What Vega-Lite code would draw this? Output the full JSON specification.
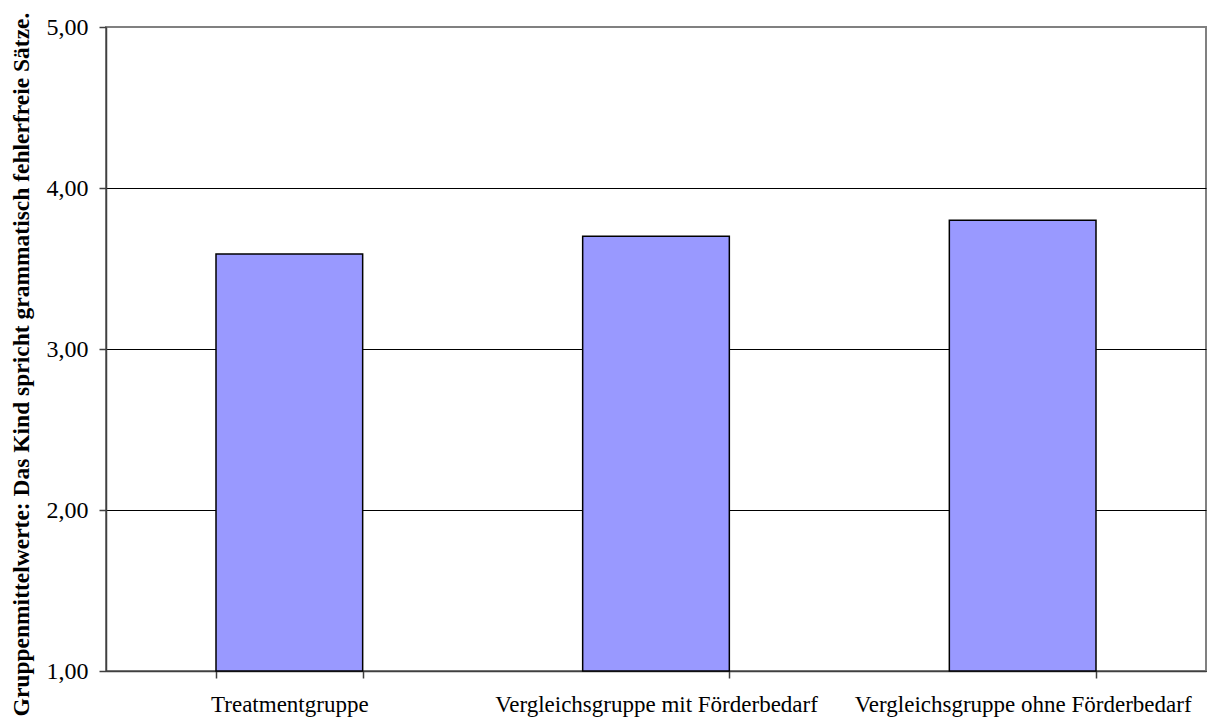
{
  "$schema": "https://vega.github.io/schema/vega-lite/v6.json",
  "width": 1100,
  "height": 644,
  "autosize": "none",
  "padding": {"left": 106, "top": 27, "right": 7, "bottom": 46},
  "background": "white",
  "config": {
    "font": "Liberation Serif",
    "view": {"stroke": "#808080", "strokeWidth": 2}
  },
  "data": {
    "values": [
      {"gruppe": "Treatmentgruppe", "wert": 3.59},
      {"gruppe": "Vergleichsgruppe mit Förderbedarf", "wert": 3.70},
      {"gruppe": "Vergleichsgruppe ohne Förderbedarf", "wert": 3.80}
    ]
  },
  "mark": {"type": "bar", "color": "#9999FF", "stroke": "#000000", "strokeWidth": 1.5},
  "encoding": {
    "x": {
      "field": "gruppe",
      "type": "nominal",
      "sort": null,
      "scale": {"paddingInner": 0.6, "paddingOuter": 0.3},
      "axis": {
        "title": null,
        "labelAngle": 0,
        "labelFont": "Liberation Serif",
        "labelFontSize": 23,
        "labelLimit": 0,
        "labelColor": "#000000",
        "labelPadding": 15,
        "tickBand": "extent",
        "ticks": true,
        "tickSize": 7,
        "tickColor": "#404040",
        "tickWidth": 1.5,
        "domainColor": "#404040",
        "domainWidth": 1.5,
        "grid": false
      }
    },
    "y": {
      "field": "wert",
      "type": "quantitative",
      "scale": {"domain": [1, 5], "nice": false, "zero": false},
      "axis": {
        "values": [1, 2, 3, 4, 5],
        "labelExpr": "replace(format(datum.value, '.2f'), '.', ',')",
        "title": "Gruppenmittelwerte: Das Kind spricht grammatisch fehlerfreie Sätze.",
        "titleFont": "Liberation Serif",
        "titleFontSize": 23.5,
        "titleFontWeight": "bold",
        "titleColor": "#000000",
        "titlePadding": 13,
        "titleY": 337,
        "labelFont": "Liberation Serif",
        "labelFontSize": 24,
        "labelColor": "#000000",
        "labelPadding": 11,
        "tickSize": 7,
        "tickColor": "#404040",
        "tickWidth": 1.5,
        "domainColor": "#404040",
        "domainWidth": 1.5,
        "grid": true,
        "gridColor": {"condition": {"test": "datum.value == 5", "value": "#808080"}, "value": "#000000"},
        "gridWidth": 1,
        "gridOpacity": 1
      }
    },
    "y2": {"datum": 1}
  }
}
